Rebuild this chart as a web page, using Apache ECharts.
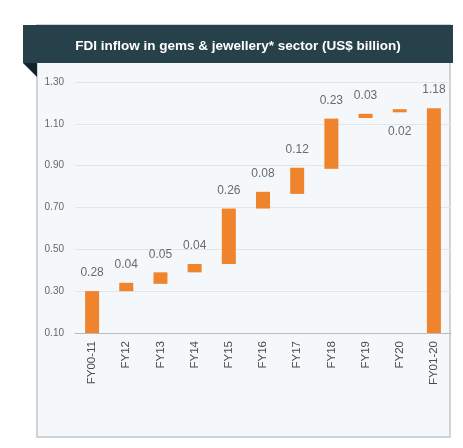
<!DOCTYPE html>
<html>
<head>
<meta charset="utf-8">
<script src="https://cdn.jsdelivr.net/npm/echarts@6/dist/echarts.min.js"></script>
<style>html,body{margin:0;padding:0;background:#fff;}#c{width:463px;height:448px;}</style>
</head>
<body>
<div id="c"></div>
<script>
var categories = ['FY00-11','FY12','FY13','FY14','FY15','FY16','FY17','FY18','FY19','FY20','FY01-20'];
// bottom of each floating bar
var bases = [0.10, 0.30, 0.335, 0.39, 0.43, 0.695, 0.765, 0.885, 1.128, 1.155, 0.10];
// visible height of each bar
var heights = [0.20, 0.04, 0.055, 0.04, 0.265, 0.08, 0.125, 0.24, 0.02, 0.015, 1.075];
// printed value labels
var labels = ['0.28','0.04','0.05','0.04','0.26','0.08','0.12','0.23','0.03','0.02','1.18'];
var belowIdx = [9];

var chart = echarts.init(document.getElementById('c'));
var barData = heights.map(function(h, i){
  var item = {value: h};
  if (belowIdx.indexOf(i) >= 0) {
    item.label = {position: 'bottom', distance: 13};
  }
  return item;
});
chart.setOption({
  animation: false,
  backgroundColor: '#ffffff',
  graphic: [
    {type:'rect', z:-10, shape:{x:37,y:25,width:413,height:412}, style:{fill:'#f5f8fb', stroke:'#cfd3d6', lineWidth:2}},
    {type:'rect', z:-5, shape:{x:23,y:25,width:430,height:38}, style:{fill:'#27414a'}},
    {type:'polygon', z:-5, shape:{points:[[23,63],[37,63],[37,77]]}, style:{fill:'#15232a'}},
    {type:'text', z:10, x:238, y:46, style:{text:'FDI inflow in gems & jewellery* sector (US$ billion)', fill:'#ffffff', font:'bold 13.5px "Liberation Sans", Arial, sans-serif', align:'center', verticalAlign:'middle'}}
  ],
  grid: {left: 75, right: 12, top: 82, bottom: 115},
  xAxis: {
    type: 'category',
    data: categories,
    axisLine: {lineStyle: {color: '#b8bcbf'}},
    axisTick: {show: false},
    axisLabel: {rotate: 90, color: '#4a4a4a', fontSize: 11.5, margin: 8, interval: 0, fontFamily: 'Liberation Sans, Arial, sans-serif'}
  },
  yAxis: {
    type: 'value',
    min: 0.1, max: 1.3, interval: 0.2,
    axisLine: {show: false},
    axisTick: {show: false},
    splitLine: {lineStyle: {color: '#e2e6e9'}},
    axisLabel: {color: '#666', fontSize: 10, margin: 11, formatter: function(v){return v.toFixed(2);}, fontFamily: 'Liberation Sans, Arial, sans-serif'}
  },
  series: [
    {type: 'bar', stack: 'w', data: bases, itemStyle: {color: 'transparent'}, barWidth: 14, silent: true},
    {type: 'bar', stack: 'w', data: barData, barWidth: 14,
     itemStyle: {color: '#f0842c'},
     label: {show: true, position: 'top', distance: 12, color: '#6a6a6a', fontSize: 12,
             fontFamily: 'Liberation Sans, Arial, sans-serif',
             formatter: function(p){ return labels[p.dataIndex]; }}}
  ]
});
</script>
</body>
</html>
